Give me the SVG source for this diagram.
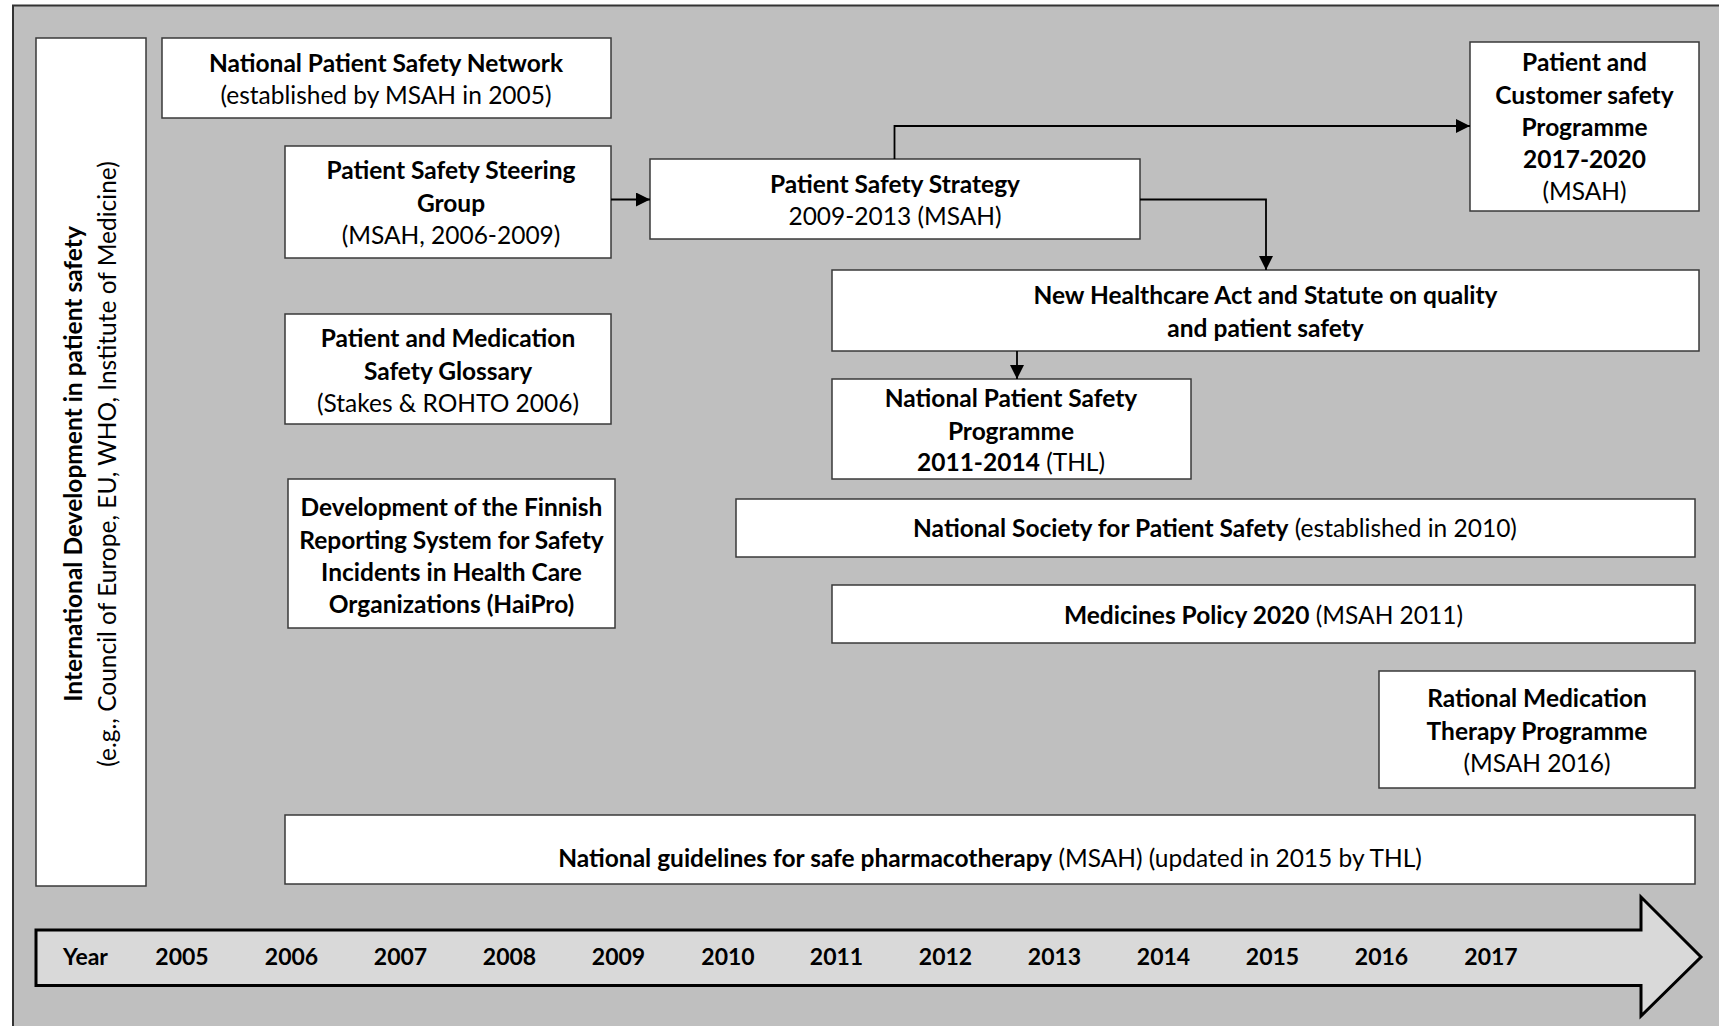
<svg xmlns="http://www.w3.org/2000/svg" width="1719" height="1026" viewBox="0 0 1719 1026">
<defs>
<style>
text{font-family:Lato,"Liberation Sans",sans-serif;font-size:24.5px;fill:#000;text-anchor:middle}
.b{font-weight:bold}
.yr{font-size:23px;font-weight:bold}
.box{fill:#fff;stroke:#3a3a3a;stroke-width:1.5}
.con{fill:none;stroke:#000;stroke-width:1.8}
</style>
<marker id="ah" viewBox="0 0 14 14" refX="14" refY="7" markerWidth="14" markerHeight="14" markerUnits="userSpaceOnUse" orient="auto">
<path d="M0,0 L14,7 L0,14 Z" fill="#000"/>
</marker>
</defs>
<rect x="0" y="0" width="1719" height="1026" fill="#fff"/>
<rect x="13" y="5.5" width="1720" height="1040" fill="#bfbfbf" stroke="#333" stroke-width="2"/>

<g id="intl">
<rect class="box" x="36" y="38" width="110" height="848"/>
<text transform="translate(82,464) rotate(-90)" class="b">International Development in patient safety</text>
<text transform="translate(116,464) rotate(-90)">(e.g., Council of Europe, EU, WHO, Institute of Medicine)</text>
</g>

<g id="npsn">
<rect class="box" x="162" y="38" width="449" height="80"/>
<text x="386" y="72" class="b">National Patient Safety Network</text>
<text x="386" y="104">(established by MSAH in 2005)</text>
</g>

<g id="pssg">
<rect class="box" x="285" y="146" width="326" height="112"/>
<text x="451" y="178.5" class="b">Patient Safety Steering</text>
<text x="451" y="211.5" class="b">Group</text>
<text x="451" y="243.5">(MSAH, 2006-2009)</text>
</g>

<g id="pmsg">
<rect class="box" x="285" y="314" width="326" height="110"/>
<text x="448" y="346.5" class="b">Patient and Medication</text>
<text x="448" y="379.5" class="b">Safety Glossary</text>
<text x="448" y="411.5">(Stakes &amp; ROHTO 2006)</text>
</g>

<g id="haipro">
<rect class="box" x="288" y="479" width="327" height="149"/>
<text x="451.5" y="515.5" class="b">Development of the Finnish</text>
<text x="451.5" y="548.5" class="b">Reporting System for Safety</text>
<text x="451.5" y="580.5" class="b">Incidents in Health Care</text>
<text x="451.5" y="612.5" class="b">Organizations (HaiPro)</text>
</g>

<g id="pss">
<rect class="box" x="650" y="159" width="490" height="80"/>
<text x="895" y="193" class="b">Patient Safety Strategy</text>
<text x="895" y="225">2009-2013 (MSAH)</text>
</g>

<g id="pcsp">
<rect class="box" x="1470" y="42" width="229" height="169"/>
<text x="1584.5" y="71" class="b">Patient and</text>
<text x="1584.5" y="104" class="b">Customer safety</text>
<text x="1584.5" y="136" class="b">Programme</text>
<text x="1584.5" y="168" class="b">2017-2020</text>
<text x="1584.5" y="200">(MSAH)</text>
</g>

<g id="nha">
<rect class="box" x="832" y="270" width="867" height="81"/>
<text x="1265.5" y="303.5" class="b">New Healthcare Act and Statute on quality</text>
<text x="1265.5" y="336.5" class="b">and patient safety</text>
</g>

<g id="npsp">
<rect class="box" x="832" y="379" width="359" height="100"/>
<text x="1011" y="406.5" class="b">National Patient Safety</text>
<text x="1011" y="439.5" class="b">Programme</text>
<text x="1011" y="471"><tspan class="b">2011-2014</tspan> (THL)</text>
</g>

<g id="society">
<rect class="box" x="736" y="499" width="959" height="58"/>
<text x="1215" y="537"><tspan class="b">National Society for Patient Safety</tspan> (established in 2010)</text>
</g>

<g id="medpol">
<rect class="box" x="832" y="585" width="863" height="58"/>
<text x="1263.5" y="623.5"><tspan class="b">Medicines Policy 2020</tspan> (MSAH 2011)</text>
</g>

<g id="rational">
<rect class="box" x="1379" y="671" width="316" height="117"/>
<text x="1537" y="706.5" class="b">Rational Medication</text>
<text x="1537" y="739.5" class="b">Therapy Programme</text>
<text x="1537" y="771.5">(MSAH 2016)</text>
</g>

<g id="guidelines">
<rect class="box" x="285" y="815" width="1410" height="69"/>
<text x="990" y="867"><tspan class="b">National guidelines for safe pharmacotherapy</tspan> (MSAH) (updated in 2015 by THL)</text>
</g>

<g id="timeline">
<path d="M36,930 L1641,930 L1641,897 L1701,957 L1641,1016 L1641,985.5 L36,985.5 Z" fill="#d9d9d9" stroke="#000" stroke-width="3"/>
<text x="85.5" y="965" class="yr">Year</text>
<text x="182" y="965" class="yr">2005</text>
<text x="291.5" y="965" class="yr">2006</text>
<text x="400.5" y="965" class="yr">2007</text>
<text x="509.5" y="965" class="yr">2008</text>
<text x="618.5" y="965" class="yr">2009</text>
<text x="728" y="965" class="yr">2010</text>
<text x="836.5" y="965" class="yr">2011</text>
<text x="945.5" y="965" class="yr">2012</text>
<text x="1054.5" y="965" class="yr">2013</text>
<text x="1163.5" y="965" class="yr">2014</text>
<text x="1272.5" y="965" class="yr">2015</text>
<text x="1381.5" y="965" class="yr">2016</text>
<text x="1491" y="965" class="yr">2017</text>
</g>

<g id="connectors">
<path class="con" d="M611,199.5 L650,199.5" marker-end="url(#ah)"/>
<path class="con" d="M894.5,159 L894.5,126 L1470,126" marker-end="url(#ah)"/>
<path class="con" d="M1140,199.5 L1266,199.5 L1266,270" marker-end="url(#ah)"/>
<path class="con" d="M1017,351 L1017,379" marker-end="url(#ah)"/>
</g>
</svg>
